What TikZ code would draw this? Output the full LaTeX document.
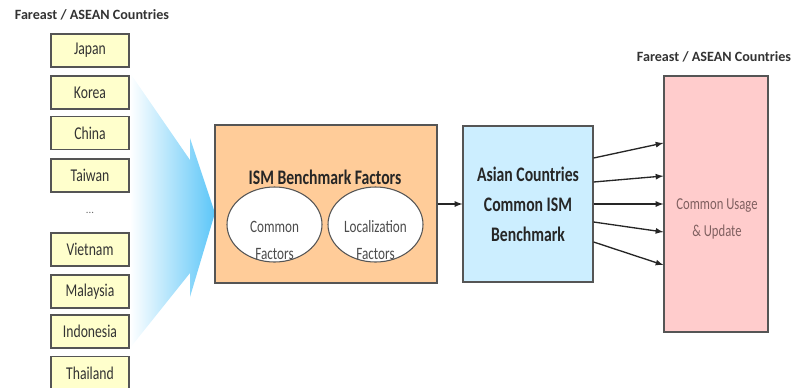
\documentclass[tikz,border=0pt]{standalone}
\usepackage{fontspec}
\setmainfont{Carlito}
\newfontfamily\narrowfont{Carlito}[FakeStretch=0.76]
\usepackage{tikz}
\usetikzlibrary{arrows}
\usetikzlibrary{shapes.geometric}

\definecolor{boxline}{HTML}{555555}
\definecolor{countryfill}{HTML}{FFFFCC}
\definecolor{factorfill}{HTML}{FFCC99}
\definecolor{benchfill}{HTML}{CCEEFF}
\definecolor{usagefill}{HTML}{FFCCCC}
\definecolor{fanblue}{HTML}{5CC6F8}
\definecolor{usagetextcol}{HTML}{806060}

\begin{document}
\begin{tikzpicture}[x=0.75pt, y=-0.75pt,
  box/.style={draw=boxline, line width=0.9pt, inner sep=0pt},
  country/.style={box, fill=countryfill, minimum width=58.5pt, minimum height=24.75pt,
    font=\narrowfont\fontsize{13.5}{14}\selectfont, text=black!80},
  oval/.style={ellipse, draw=boxline, line width=0.8pt, fill=white,
    minimum width=71.25pt, minimum height=56.25pt, inner sep=0pt},
  ovaltext/.style={align=center, text=black!70, font=\narrowfont\fontsize{13}{20.25}\selectfont},
  heading/.style={font=\bfseries\fontsize{10.6}{12}\selectfont, text=black!80},
  link/.style={-latex, line width=1pt, black!85}]
\useasboundingbox (0,0) rectangle (796,387);

% fan arrow from the countries
\shade[left color=white, right color=fanblue]
  (130,73) -- (190,160) -- (190,138) -- (215,213) -- (190,297) -- (190,273) -- (130,348) -- cycle;

\node[heading] (lefttitle) at (92,15) {Fareast / ASEAN Countries};
\foreach \name/\y [count=\i] in {Japan/50.5, Korea/92.5, China/133, Taiwan/175.5,
    Vietnam/249.5, Malaysia/291.5, Indonesia/331.5, Thailand/373}
  \node[country] (c\i) at (90,\y) {\name};
\node[text=black!60, font=\fontsize{8}{9}\selectfont] (more) at (90,213) {...};

% factors
\node[box, fill=factorfill, minimum width=166.5pt, minimum height=118.5pt] (factors) at (326,204) {};
\node[font=\narrowfont\bfseries\fontsize{15.5}{16}\selectfont, text=black!85] (fhead) at (325,177) {ISM Benchmark Factors};
\node[oval] (common) at (274.5,224.5) {};
\node[oval] (local) at (375.5,224.5) {};
\node[ovaltext] (commontext) at (274.5,240.5) {Common\\Factors};
\node[ovaltext] (localtext) at (375.5,240.5) {Localization\\Factors};

% benchmark
\node[box, fill=benchfill, minimum width=97.5pt, minimum height=117pt, align=center,
  font=\narrowfont\bfseries\fontsize{15.5}{22.5}\selectfont, text=black!85] (bench) at (528,204)
  {Asian Countries\\Common ISM\\Benchmark};
\draw[link] (factors.east) -- (bench.west);

% usage
\node[heading] (righttitle) at (714,57) {Fareast / ASEAN Countries};
\node[box, fill=usagefill, minimum width=78pt, minimum height=192pt] (usage) at (716,204) {};
\node[align=center, text=usagetextcol, font=\narrowfont\fontsize{12.5}{20.25}\selectfont] (usagetext)
  at (717,218.5) {Common Usage\\\& Update};

\foreach \s/\e in {46/61, 22/28, 0/0, -18/-28, -38/-61}
  \draw[link] ([yshift=\s*0.75pt]bench.east) -- ([yshift=\e*0.75pt]usage.west);
\end{tikzpicture}
\end{document}
